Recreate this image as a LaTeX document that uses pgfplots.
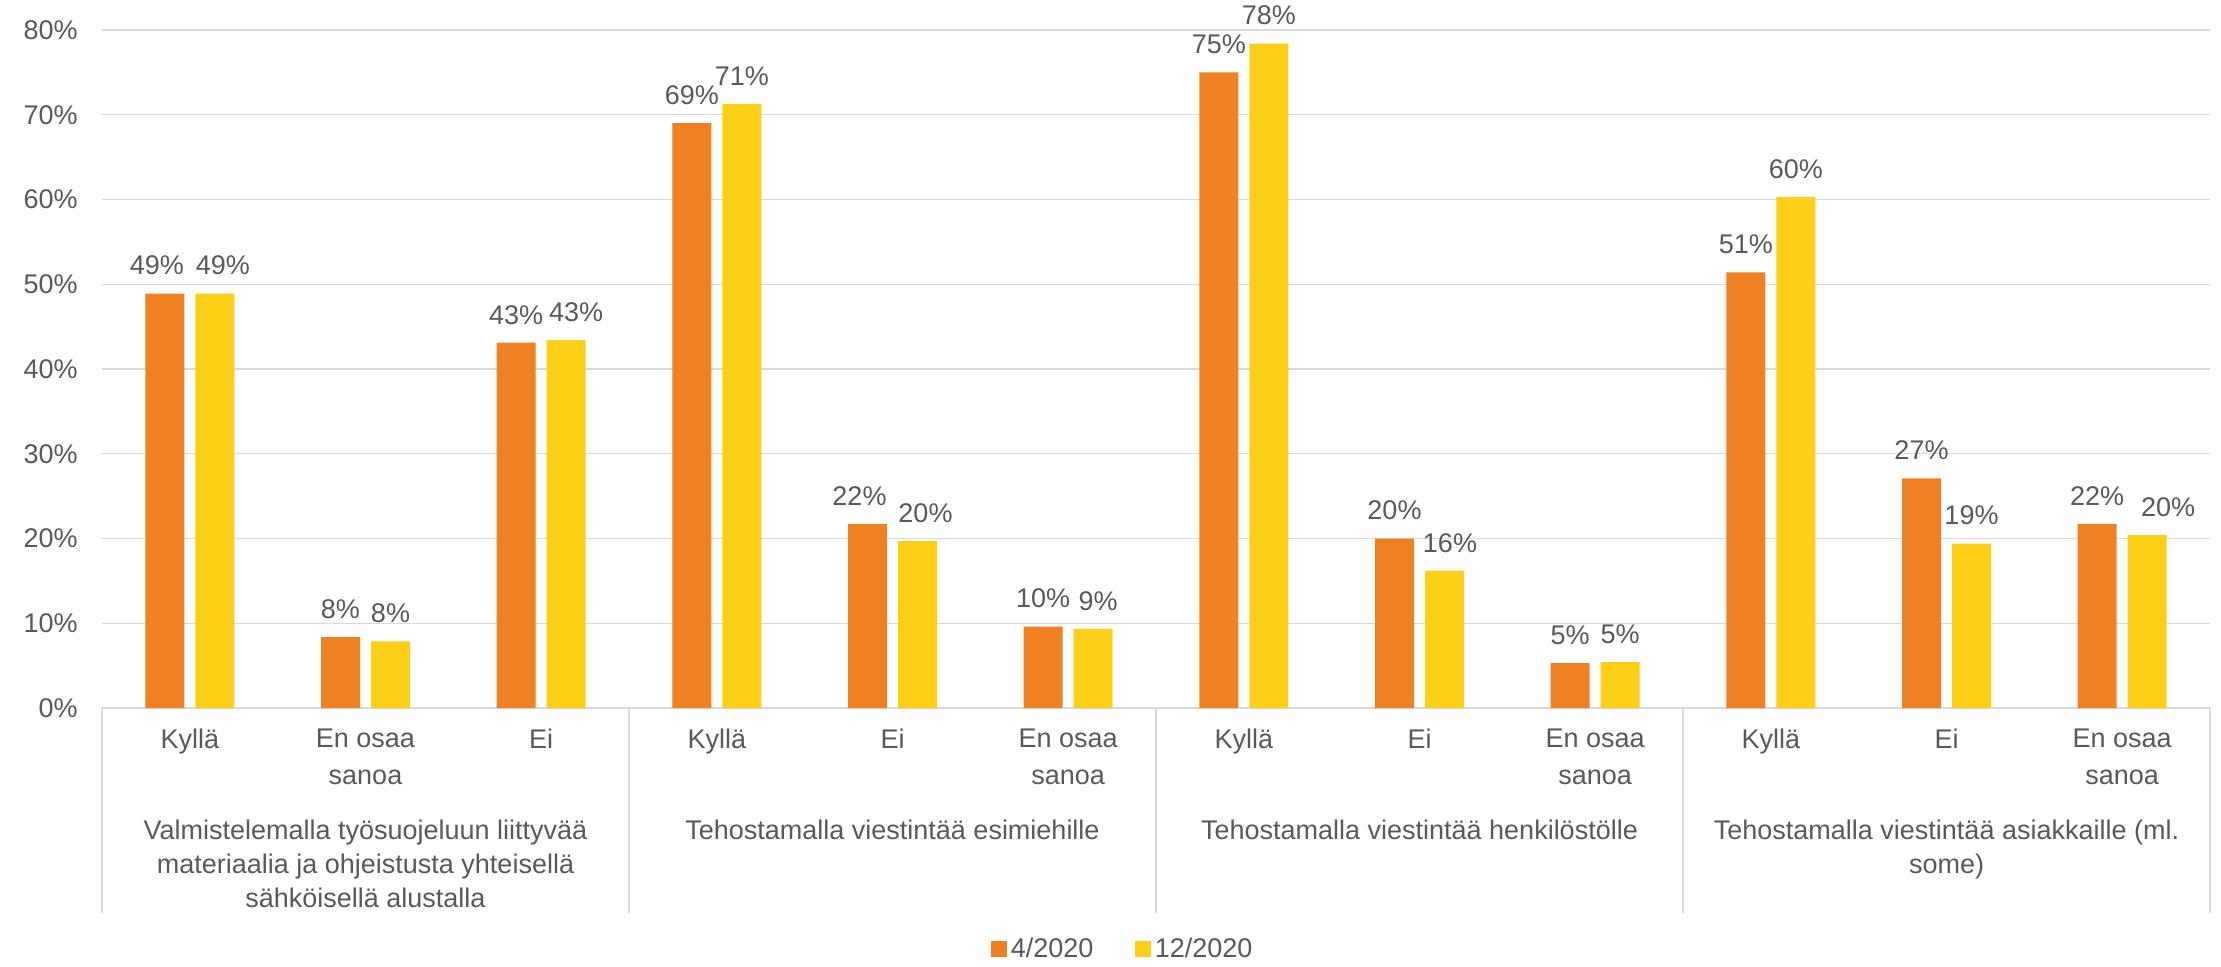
\documentclass[border=0pt]{standalone}
\usepackage{pgfplots}
\pgfplotsset{compat=1.18}
\usepackage{fontspec}
\setmainfont{Liberation Sans}
\definecolor{orng}{HTML}{F08122}
\definecolor{yel}{HTML}{FDD017}
\definecolor{txt}{HTML}{595959}
\definecolor{grd}{HTML}{D9D9D9}
\pgfplotsset{/pgf/number format/assume math mode=true}
\begin{document}
\begin{tikzpicture}[font=\fontsize{13.5pt}{17.5pt}\selectfont]
\path[use as bounding box] (0,0) rectangle (1110.5pt,483pt);
\begin{axis}[
  at={(51pt,129pt)}, anchor=south west,
  scale only axis, width=1054pt, height=339pt,
  ymin=0, ymax=80, ytick={0,10,...,80},
  xmin=-0.5, xmax=11.5, xtick={0,...,11},
  xticklabels={{Kyllä},{En osaa\\sanoa},{Ei},{Kyllä},{Ei},{En osaa\\sanoa},{Kyllä},{Ei},{En osaa\\sanoa},{Kyllä},{Ei},{En osaa\\sanoa}},
  yticklabel={\pgfmathprintnumber{\tick}\%},
  ybar=5.5pt, bar width=19.5pt,
  axis x line*=bottom, axis y line*=left,
  y axis line style={draw=none},
  x axis line style={draw=grd, line width=0.7pt},
  major tick length=0pt,
  ymajorgrids, grid style={draw=grd, line width=0.7pt},
  yticklabel style={anchor=east, inner sep=0pt, xshift=-12pt, text=txt, font=\fontsize{13.5pt}{17.5pt}\selectfont},
  xticklabel style={anchor=north, align=center, inner sep=0pt, yshift=-10.5pt, text=txt, font=\fontsize{13.5pt}{18.5pt}\selectfont},
  nodes near coords={\pgfmathprintnumber[fixed,precision=0]{\pgfplotspointmeta}\%},
  every node near coord/.append style={text=txt, inner sep=0pt, anchor=south, yshift=9pt, font=\fontsize{13.5pt}{17.5pt}\selectfont},
  clip=false,
  legend columns=2,
  legend style={at={(0.4848,-0.3555)}, anchor=center, draw=none, text=txt, font=\fontsize{13.5pt}{17.5pt}\selectfont,
    /tikz/every even column/.style={column sep=19pt}},
  legend image code/.code={\draw[#1,draw=none] (0pt,-3.9pt) rectangle (7.7pt,3.9pt);},
]
\addplot[fill=orng, draw=none, visualization depends on={\thisrow{dx} \as \dx},
  every node near coord/.append style={xshift=\dx pt}] table[x=x,y=y] {
x y dx
0 48.9 -4
1 8.35 0
2 43.1 0
3 69.0 0
4 21.7 -4
5 9.6 0
6 75.0 0
7 20.0 0
8 5.3 0
9 51.4 0
10 27.1 0
11 21.7 0
};
\addplot[fill=yel, draw=none, visualization depends on={\thisrow{dx} \as \dx},
  every node near coord/.append style={xshift=\dx pt}] table[x=x,y=y] {
x y dx
0 48.9 4
1 7.85 0
2 43.4 5
3 71.3 0
4 19.7 4
5 9.35 2.5
6 78.4 0
7 16.2 2.75
8 5.4 0
9 60.3 0
10 19.4 0
11 20.4 10.5
};
\legend{4/2020,12/2020}
\pgfplotsinvokeforeach{-0.5,2.5,5.5,8.5,11.5}{
  \draw[grd, line width=0.7pt] (axis cs:#1,0) -- ++(0pt,-102.5pt);
}
\begin{scope}[every node/.style={anchor=north, align=center, inner sep=0pt, text=txt, font=\fontsize{13.5pt}{17pt}\selectfont}]
\node at ([yshift=-56pt]axis cs:1,0) {Valmistelemalla työsuojeluun liittyvää\\materiaalia ja ohjeistusta yhteisellä\\sähköisellä alustalla};
\node at ([yshift=-56pt]axis cs:4,0) {Tehostamalla viestintää esimiehille};
\node at ([yshift=-56pt]axis cs:7,0) {Tehostamalla viestintää henkilöstölle};
\node at ([yshift=-56pt]axis cs:10,0) {Tehostamalla viestintää asiakkaille (ml.\\some)};
\end{scope}
\end{axis}
\end{tikzpicture}
\end{document}
